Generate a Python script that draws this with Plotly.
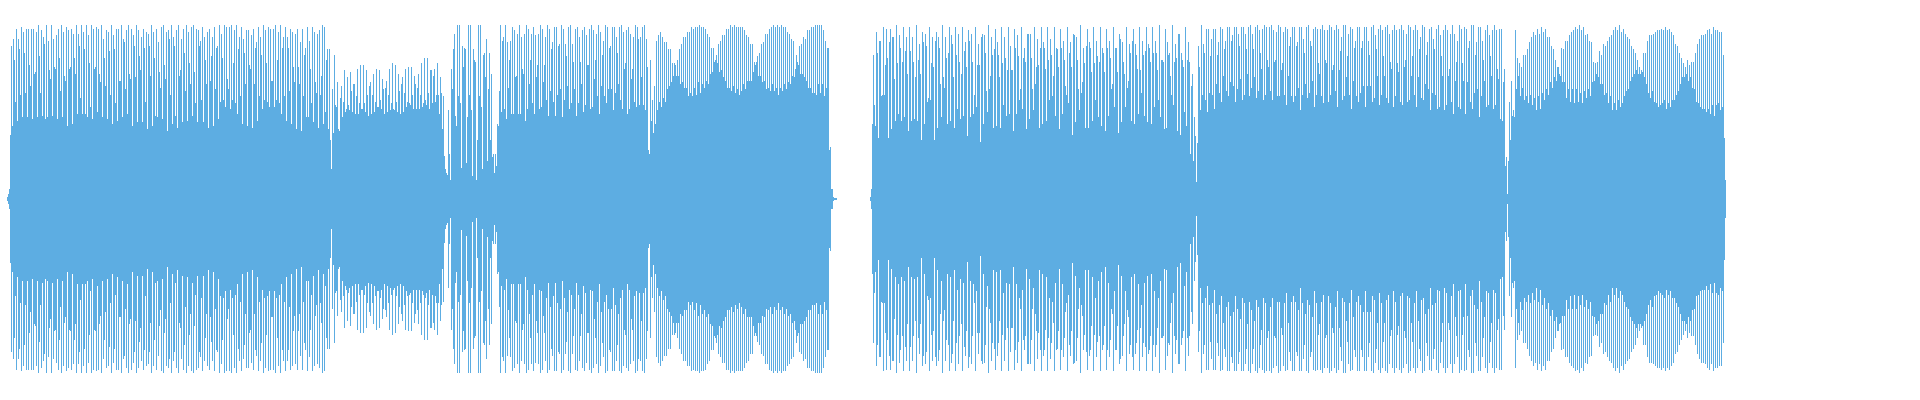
import plotly.graph_objects as go

# amplitude per sample column, in percent of full scale
intro_ramp = [1, 3, 6, 37, 88, 42, 92, 80, 56]

tone_one = [
    98, 45, 92, 86, 60, 99, 47, 96, 84, 61, 98, 47, 98, 77, 65, 98, 46, 98, 72, 73,
    96, 47, 100, 82, 61, 97, 48, 93, 89, 46, 100, 47, 91, 74, 69, 100, 48, 92, 76, 75,
    94, 46, 98, 81, 62, 100, 47, 96, 71, 68, 99, 42, 97, 75, 76, 98, 43, 95, 81, 72,
    100, 49, 95, 88, 58, 100, 49, 96, 86, 49, 100, 47, 94, 78, 53, 100, 46, 98, 75, 76,
    99, 50, 98, 72, 67, 100, 47, 92, 81, 65, 97, 46, 96, 85, 60, 100, 43, 94, 86, 55,
    98, 45, 98, 68, 68, 100, 47, 92, 90, 63, 97, 49, 100, 72, 69, 98, 42, 94, 88, 70,
    100, 44, 97, 82, 74, 93, 44, 98, 87, 56, 96, 40, 95, 88, 71, 100, 42, 96, 81, 48,
    98, 47, 90, 73, 64, 99, 46, 100, 77, 69, 96, 39, 97, 92, 60, 100, 43, 93, 88, 48,
    97, 41, 100, 71, 74, 92, 44, 98, 84, 62, 100, 45, 96, 78, 66, 99, 48, 100, 73, 55,
    98, 44, 97, 88,
]

tone_two = [
    91, 57, 99, 44, 93, 80, 66, 96, 41, 98, 68, 82, 93, 42, 99, 63, 87, 88, 46, 100,
    56, 95, 81, 57, 100, 53, 99, 69, 63, 99, 52, 100, 57, 78, 97, 55, 100, 49, 86, 93,
    59, 99, 43, 92, 84, 66, 97, 42, 97, 77, 75, 94, 41, 98, 66, 87, 90, 45, 99, 59,
    93, 83, 52, 100, 57, 97, 78, 56, 99, 53, 98, 68, 68, 98, 53, 100, 57, 80, 96, 55,
    100, 49, 87, 93, 59, 99, 45, 93, 87, 62, 98, 43, 96, 76, 67, 95, 40, 98, 76, 66,
    90, 39, 98, 59, 83, 87, 47, 99, 47, 91, 75, 55, 99, 44, 96, 67, 61, 95, 41, 97,
    60, 71, 100, 43, 99, 50,
]

low_tone = [
    80, 86, 40, 86, 34, 17, 63, 38, 83, 54, 53, 67, 40, 39, 58, 65, 47, 56, 74, 50,
    52, 70, 54, 51, 73, 62, 50, 66, 66, 49, 59, 75, 49, 55, 77, 52, 52, 77, 55, 50,
    74, 60, 48, 65, 67, 49, 60, 72, 50, 56, 75, 53, 53, 74, 57, 52, 69, 63, 49, 64,
    68, 50, 60, 75, 51, 55, 78, 52, 51, 77, 56, 50, 72, 62, 49, 66, 70, 50, 61, 75,
    53, 56, 76, 55, 54, 76, 60, 52, 71, 66, 52, 64, 72, 52, 60, 78, 53, 55, 81, 57,
    54, 81, 61, 52, 74, 74, 55, 71, 75, 56, 60, 78, 60, 49, 70, 61, 40, 59, 25, 17,
    15, 14, 51, 26, 11,
]

burst = [
    75, 63, 86, 95, 48, 42, 100, 59, 100, 55, 18, 88, 76, 87, 86, 21, 47, 100, 60, 100,
    51, 13, 86, 80, 79, 11, 34, 100, 59, 100, 53, 17, 83, 84, 70, 92, 22, 63, 84, 34,
    72, 24, 26, 15, 26, 19, 43, 42, 62,
]

tone_three = [
    100, 50, 91, 93, 52, 100, 46, 90, 64, 80, 91, 49, 99, 49, 97, 70, 71, 95, 49, 100,
    49, 93, 75, 72, 95, 45, 100, 52, 98, 66, 80, 95, 55, 99, 49, 94, 70, 77, 95, 52,
    100, 53, 98, 67, 77, 93, 57, 100, 48, 98, 62, 86, 90, 56, 99, 48, 99, 60, 88, 89,
    63, 100, 47, 98, 57, 89, 82, 65, 99, 52, 100, 55, 89, 79, 63, 98, 48, 99, 55, 93,
    79, 66, 97, 50, 99, 54, 94, 77, 77, 98, 52, 100, 53, 97, 69, 80, 95, 59, 100, 49,
    96, 65, 83, 91, 59, 100, 55, 99, 63, 87, 88, 63, 99, 51, 99, 61, 93, 84, 66, 99,
    57, 100, 52, 96, 75, 78, 97, 49, 99, 52, 95, 69, 75, 93, 56, 100, 53, 99, 92, 54,
    93, 70, 99, 54, 100, 51, 92, 76, 28, 26, 80, 45, 57, 38, 65, 43,
]

lobes_one = [
    91, 51, 94, 56, 96, 53, 93, 58, 90, 56, 90, 63, 86, 65, 86, 67, 78, 71, 78, 77,
    71, 80, 71, 86, 66, 89, 67, 93, 64, 93, 64, 96, 59, 96, 61, 99, 59, 98, 64, 99,
    60, 99, 67, 100, 61, 99, 66, 99, 64, 98, 68, 95, 66, 93, 72, 87, 73, 87, 79, 80,
    83, 78, 89, 73, 91, 74, 94, 70, 94, 68, 98, 64, 98, 64, 100, 62, 99, 65, 100, 61,
    99, 63, 99, 60, 99, 62, 99, 66, 97, 63, 94, 68, 93, 68, 89, 68, 89, 73, 79, 77,
    79, 82, 71, 84, 71, 89, 67, 90, 68, 95, 63, 95, 64, 98, 62, 99, 66, 100, 62, 99,
    64, 100, 60, 99, 64, 100, 62, 99, 66, 99, 63, 96, 67, 95, 66, 92, 71, 91, 70, 75,
    83, 79, 77, 88, 72, 89, 72, 93, 70, 92, 68, 97, 64, 97, 64, 99, 61, 99, 61, 100,
    60, 100, 66, 100, 61, 100, 66, 97, 59, 91, 64, 87, 87, 28, 30, 6, 6, 1, 0.5, 0.5, 0.5,
]

silence = [0] * 33

lead_in = [1, 6, 43, 83, 54, 42, 96, 84, 35, 91, 91, 59, 60, 99, 60, 77, 98, 81, 35, 90]

tone_four = [
    98, 40, 93, 93, 69, 45, 100, 78, 49, 94, 87, 45, 79, 99, 47, 85, 93, 72, 39, 99,
    85, 45, 93, 79, 46, 70, 100, 45, 80, 89, 72, 34, 96, 90, 43, 95, 88, 56, 58, 99,
    57, 78, 93, 76, 34, 91, 96, 41, 93, 87, 66, 47, 100, 70, 64, 93, 81, 43, 84, 99,
    45, 94, 89, 70, 41, 99, 83, 52, 95, 79, 46, 72, 99, 48, 85, 90, 76, 36, 97, 91,
    47, 95, 79, 49, 60, 99, 53, 77, 89, 77, 33, 93, 95, 43, 94, 84, 62, 50, 100, 63,
    71, 93, 83, 41, 86, 98, 42, 90, 83, 70, 41, 99, 78, 54, 93, 81, 48, 74, 99, 49,
    88, 74, 74, 39, 98, 87, 49, 94, 82, 57, 63, 99, 52, 81, 87, 79, 40, 95, 95, 46,
    95, 81, 63, 51, 99, 66, 76, 92, 77, 41, 87, 99, 43, 90, 87, 75, 45, 99, 80, 57,
    92, 83, 59, 71, 99, 48, 87, 86, 76, 40, 98, 87, 49, 91, 80, 65, 60, 99, 55, 84,
    90, 76, 37, 95, 94, 44, 93, 80, 63, 51, 100, 61, 67, 87, 78, 41, 88, 98, 41, 90,
    87, 73, 45, 99, 78, 57, 91, 82, 47, 79,
]

tone_five = [
    99, 42, 87, 84, 73, 39, 98, 87, 48, 91, 81, 63, 66, 99, 53, 87, 87, 73, 38, 95,
    92, 44, 90, 79, 72, 53, 99, 64, 68, 89, 84, 45, 91, 98, 43, 89, 83, 75, 49, 99,
    74, 61, 91, 83, 48, 85, 99, 44, 89, 87, 79, 43, 99, 84, 53, 91, 84, 74, 57, 100,
    47, 80, 80, 79, 40, 98, 41, 90, 83, 84, 71, 60, 100, 54, 79, 89, 81, 39, 95, 95,
    37, 84, 80, 76, 50, 99, 42, 80, 90, 79, 26, 65, 72, 22, 47, 36, 10, 32, 88, 76,
]

tone_six = [
    51, 100, 60, 89, 84, 57, 98, 50, 98, 61, 82, 92, 60, 98, 52, 98, 66, 83, 90, 61,
    99, 56, 98, 71, 86, 91, 62, 99, 59, 99, 67, 91, 94, 65, 99, 56, 99, 63, 95, 88,
    69, 99, 57, 99, 60, 95, 86, 72, 99, 59, 100, 64, 95, 86, 70, 99, 58, 100, 62, 97,
    84, 75, 98, 57, 100, 60, 99, 80, 76, 99, 62, 100, 57, 97, 79, 80, 96, 59, 100, 59,
    99, 74, 78, 96, 60, 99, 54, 98, 71, 88, 93, 59, 99, 56, 99, 59, 88, 90, 64, 99,
]

tone_seven = [
    51, 99, 60, 92, 84, 66, 99, 58, 100, 61, 91, 88, 68, 98, 53, 99, 60, 98, 78, 72,
    98, 59, 100, 55, 97, 80, 78, 97, 56, 100, 60, 99, 74, 77, 97, 62, 100, 53, 98, 74,
    85, 93, 57, 100, 59, 100, 70, 82, 95, 60, 99, 52, 98, 68, 87, 91, 59, 99, 56, 99,
    61, 87, 91, 65, 99, 53, 99, 65, 91, 83, 65, 99, 56, 100, 58, 94, 86, 71, 98, 54,
    100, 60, 97, 82, 71, 99, 58, 100, 55, 95, 79, 75, 97, 53, 100, 59, 97, 78, 73, 98,
    56, 100, 54, 97, 76, 80, 95, 56, 100, 57, 99, 71, 82, 97, 60, 100, 53, 97, 70, 86,
    93, 58, 100, 57, 99, 66, 83, 90, 63, 98, 51, 99, 61, 92, 86, 60, 98, 52, 100, 53,
    94, 82, 71, 97, 51, 100, 54, 97, 71, 75, 95, 56, 100, 49, 95, 68, 79, 91, 53, 100,
    52, 98, 78, 68, 99, 49, 98, 67, 87, 91, 56, 100, 52, 100, 61, 83, 90, 63, 99, 47,
    99, 59, 91, 80, 68, 97, 53, 100,
]

lobes_two = [
    54, 94, 82, 71, 97, 52, 100, 54, 97, 75, 69, 98, 46, 98, 45, 67, 75, 19, 24, 3,
    22, 56, 34, 68, 48, 51, 47, 97, 63, 81, 71, 78, 59, 76, 64, 83, 57, 83, 59, 86,
    55, 90, 60, 93, 54, 96, 58, 94, 51, 98, 59, 95, 52, 99, 61, 96, 57, 98, 63, 93,
    60, 93, 67, 88, 64, 86, 70, 80, 68, 76, 76, 72, 71, 87, 67, 86, 67, 91, 58, 91,
    63, 94, 56, 96, 63, 97, 55, 99, 63, 98, 56, 100, 61, 97, 55, 99, 62, 94, 58, 95,
    63, 91, 59, 90, 67, 79, 68, 78, 72, 79, 70, 85, 66, 83, 66, 89, 60, 88, 61, 91,
    55, 93, 59, 94, 51, 97, 55, 99, 51, 97, 57, 100, 53, 96, 55, 98, 59, 95, 62, 93,
    63, 92, 68, 88, 70, 86, 72, 84, 74, 80, 72, 76, 72, 74, 73, 84, 70, 84, 66, 91,
    61, 94, 58, 94, 62, 95, 56, 96, 55, 97, 53, 97, 54, 98, 55, 97, 57, 99, 52, 97,
    55, 98, 53, 96, 57, 94, 57, 89, 60, 88, 62, 84, 66, 81, 70, 78, 70, 76, 72, 80,
    68, 77, 70, 79, 64, 79, 63, 84, 56, 89, 55, 92, 53, 94, 52, 94, 52, 95, 50, 97,
    52, 98, 49, 95, 54, 99, 48, 97, 54, 97, 55, 96, 51, 96, 53, 83, 35, 11,
]

amplitude = (
    intro_ramp + tone_one + tone_two + low_tone + burst + tone_three + lobes_one
    + silence + lead_in + tone_four + tone_five + tone_six + tone_seven + lobes_two
)
samples = list(range(len(amplitude)))

fig = go.Figure(
    go.Bar(
        x=samples,
        y=[2 * a for a in amplitude],
        base=[-a for a in amplitude],
        width=1,
        marker=dict(color="rgba(93,173,226,0.999)", line=dict(width=0)),
        hoverinfo="skip",
    )
)
fig.update_layout(
    width=1920,
    height=400,
    margin=dict(l=0, r=0, t=0, b=0),
    paper_bgcolor="white",
    plot_bgcolor="white",
    showlegend=False,
    bargap=0,
)
fig.update_xaxes(visible=False, range=[-7.5, 1912.5])
fig.update_yaxes(visible=False, range=[-115.5, 114.4])

fig.write_html(
    "out.html",
    config={"displayModeBar": False},
    post_script="document.body.style.margin='0';",
)
